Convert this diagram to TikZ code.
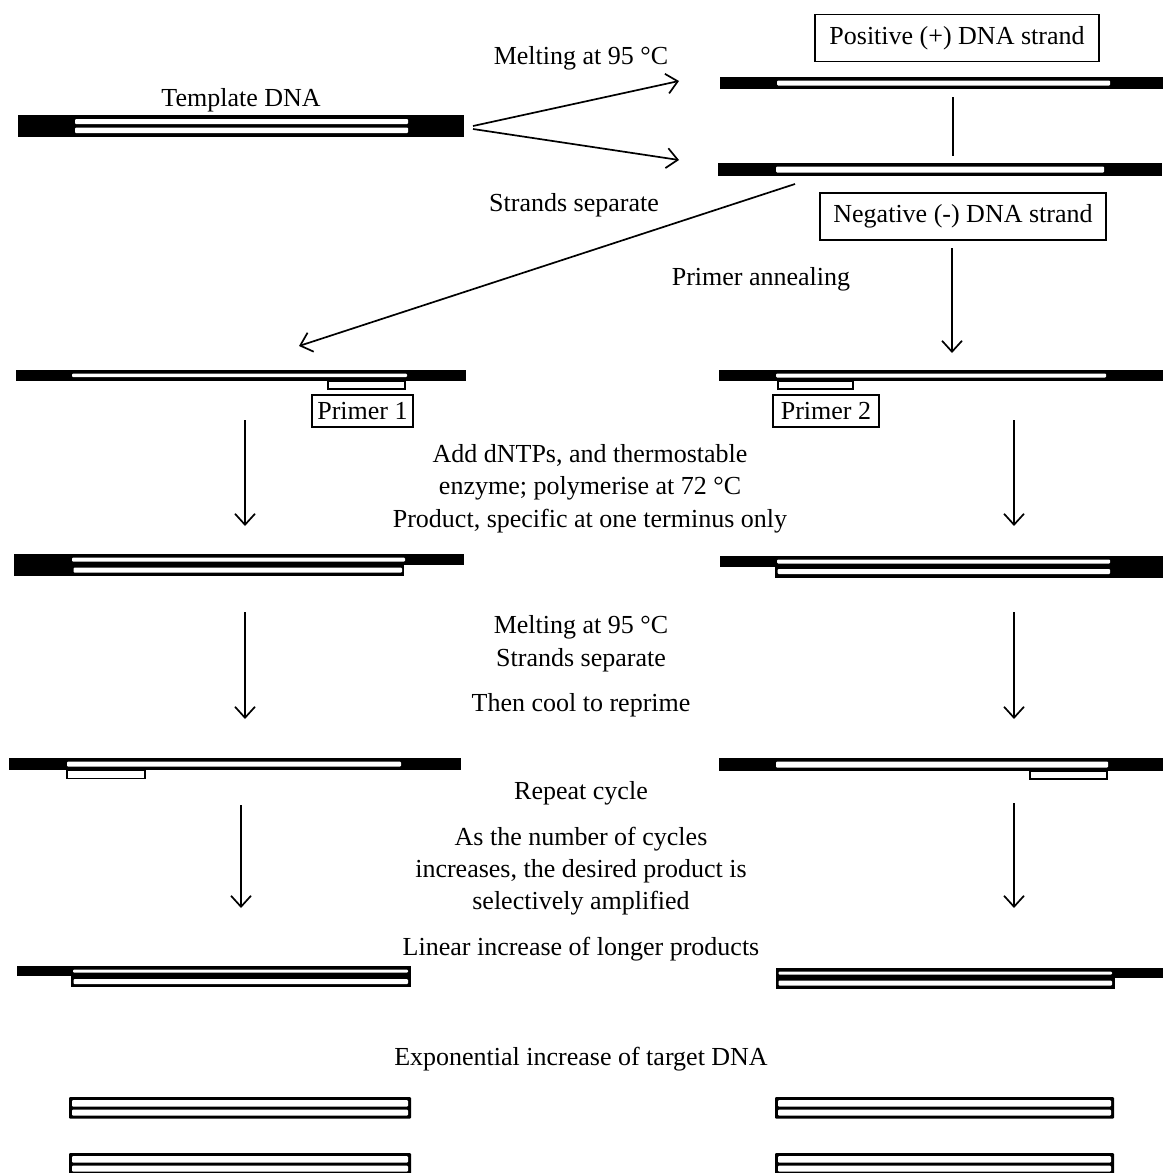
\documentclass[tikz,border=0pt]{standalone}
\usepackage{fontspec}
\setmainfont{Liberation Serif}
\usetikzlibrary{arrows.meta}
\tikzset{
  lbl/.style={font=\fontsize{26}{30}\selectfont, anchor=base, inner sep=0pt},
  boxlbl/.style={draw, line width=1.8pt, font=\fontsize{26}{30}\selectfont, inner sep=0pt, minimum height=47pt},
  arr/.style={line width=1.7pt, -{Straight Barb[length=11pt,width=20pt,line width=1.7pt]}},
  link/.style={line width=2pt},
  stripe/.style={fill=white, rounded corners=1pt},
  primerbox/.style={draw=black, line width=1.8pt, fill=white},
}
% single strand: black bar x1..x2, y top..bottom; white stripe a1..a2
\newcommand\dnaSingle[6]{%
  \fill[black] (#1,#5) rectangle (#2,#6);
  \fill[stripe] (#3,{#5+3.5}) rectangle (#4,{#6-3.5});
}
\begin{document}
\begin{tikzpicture}[x=1pt,y=-1pt]
\useasboundingbox (0,0) rectangle (1164,1173);

% ---------- Row 1: template ----------
\fill[black] (18,115) rectangle (464,137);
\fill[stripe] (75,119) rectangle (408,124);
\fill[stripe] (75,127.5) rectangle (408,133);
\node[lbl] (tmpl) at (241,106) {Template DNA};

% ---------- Row 2: separated strands ----------
\dnaSingle{720}{1163}{777}{1110}{77}{89}
\dnaSingle{718}{1162}{776}{1104}{163}{176}
\node[boxlbl, minimum width=284pt] (pos) at (957,38) {Positive (+) DNA strand};
\node[boxlbl, minimum width=286pt] (neg) at (963,216.5) {Negative (-) DNA strand};
\coordinate (lk1) at (953,97);
\coordinate (lk2) at (953,156);
\draw[link] (lk1) -- (lk2);

\node[lbl] (melt1) at (581,64) {Melting at 95 °C};
\node[lbl] (sep1) at (574,211) {Strands separate};
\node[lbl] (anneal) at (761,285) {Primer annealing};

\coordinate (tR1) at (473,126);
\coordinate (tR2) at (473,129);
\coordinate (pL) at (679,81);
\coordinate (nL) at (679,160);
\draw[arr] (tR1) -- (pL);
\draw[arr] (tR2) -- (nL);
\coordinate (dgS) at (795,184);
\coordinate (dgE) at (299,346);
\draw[arr] (dgS) -- (dgE);
\coordinate (vS) at (952,248);
\coordinate (vE) at (952,353);
\draw[arr] (vS) -- (vE);

% ---------- Row 3: primer annealing ----------
\dnaSingle{16}{466}{72}{407}{370}{380.5}
\draw[primerbox] (328,381) rectangle (405,389);
\dnaSingle{719}{1163}{776}{1106}{370}{381}
\draw[primerbox] (778,381.5) rectangle (853,389);
\node[boxlbl, minimum width=101pt, minimum height=32pt] (p1) at (362.5,411) {Primer 1};
\node[boxlbl, minimum width=106pt, minimum height=32pt] (p2) at (826,411) {Primer 2};

\node[lbl] (add1) at (590,462) {Add dNTPs, and thermostable};
\node[lbl] (add2) at (590,494) {enzyme; polymerise at 72 °C};
\node[lbl] (add3) at (590,527) {Product, specific at one terminus only};

\foreach \n/\x/\ya/\yb in {a/245/420/526, b/1014/420/526, c/245/612/719, d/1014/612/719, e/241/805/908, f/1014/803/908}{
  \coordinate (s\n) at (\x,\ya);
  \coordinate (e\n) at (\x,\yb);
  \draw[arr] (s\n) -- (e\n);
}

% ---------- Row 4: extension ----------
\dnaSingle{14}{464}{72}{405}{554}{565}
\fill[black] (14,565) rectangle (404,575.5);
\fill[stripe] (73.5,567.5) rectangle (402,572.5);
\dnaSingle{720}{1163}{777}{1110}{556}{567}
\fill[black] (775,567) rectangle (1163,577.5);
\fill[stripe] (777.5,569) rectangle (1110,574);

\node[lbl] (melt2) at (581,633) {Melting at 95 °C};
\node[lbl] (sep2) at (581,666) {Strands separate};
\node[lbl] (cool) at (581,711) {Then cool to reprime};

% ---------- Row 5: reprime ----------
\dnaSingle{9}{461}{67}{401}{758}{770}
\draw[primerbox] (67,770.5) rectangle (145,778.5);
\dnaSingle{719}{1163}{776}{1108}{758}{771}
\draw[primerbox] (1030,771) rectangle (1107,779);

\node[lbl] (rep) at (581,799) {Repeat cycle};
\node[lbl] (as1) at (581,845) {As the number of cycles};
\node[lbl] (as2) at (581,877) {increases, the desired product is};
\node[lbl] (as3) at (581,909) {selectively amplified};
\node[lbl] (lin) at (581,955) {Linear increase of longer products};

% ---------- Row 6: longer products ----------
\dnaSingle{17}{411}{73}{408}{966}{976}
\fill[black] (71,976) rectangle (411,987);
\fill[stripe] (73.5,979) rectangle (408,984);
\dnaSingle{776}{1163}{778.5}{1112}{968}{978}
\fill[black] (776,978) rectangle (1115,988.5);
\fill[stripe] (778.5,980.5) rectangle (1112,985.5);

\node[lbl] (expo) at (581,1065) {Exponential increase of target DNA};

% ---------- Rows 7-8: target DNA ----------
\foreach \xa/\xb in {69/411, 775/1114}{
  \foreach \yt in {1097, 1153}{
    \fill[black, rounded corners=1pt] (\xa,\yt) rectangle (\xb,\yt+21.5);
    \fill[stripe] (\xa+3,\yt+3) rectangle (\xb-3,\yt+9.5);
    \fill[stripe] (\xa+3,\yt+12.5) rectangle (\xb-3,\yt+18.5);
  }
}
\end{tikzpicture}
\end{document}
